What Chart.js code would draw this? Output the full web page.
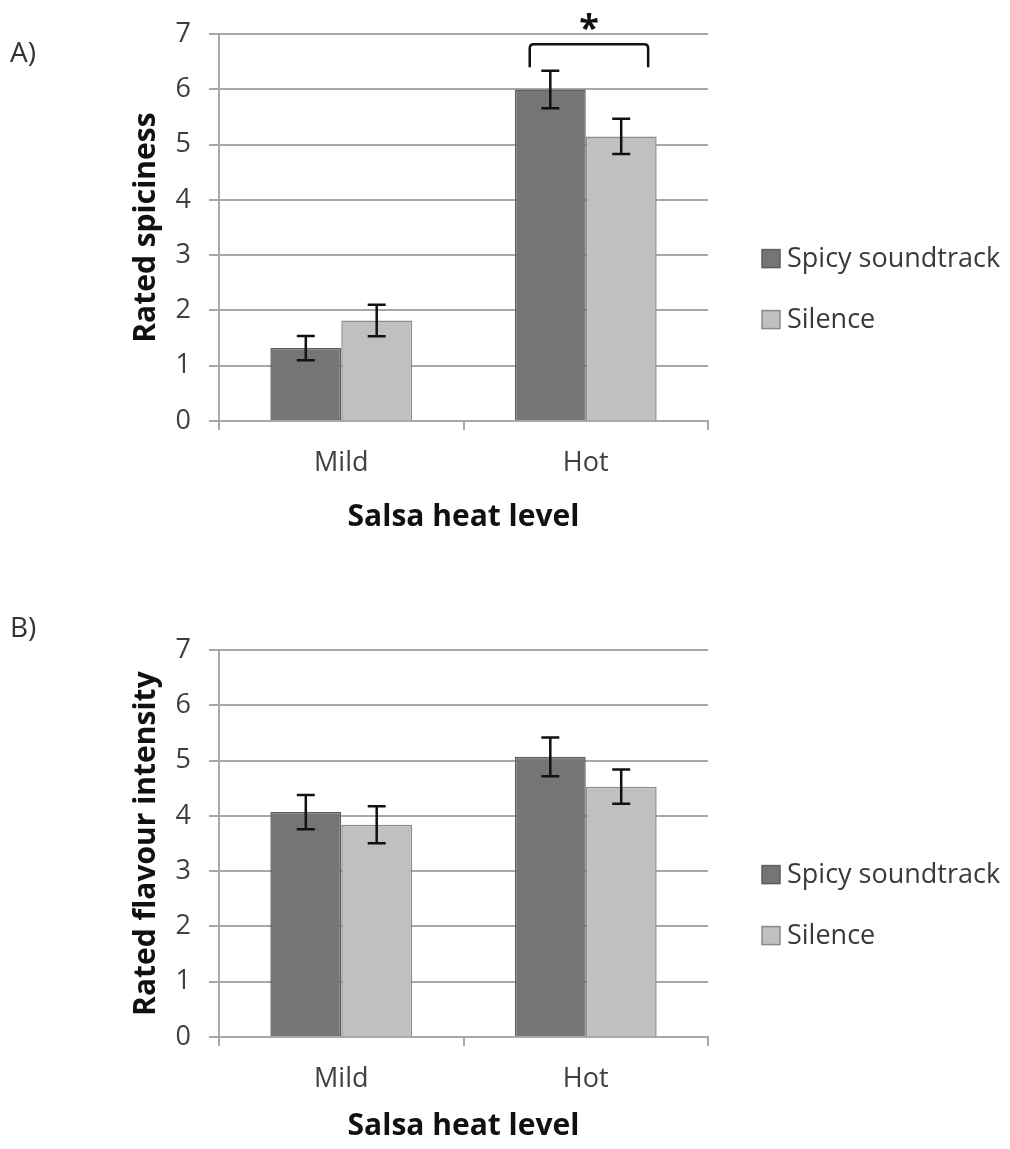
<!DOCTYPE html>
<html>
<head>
<meta charset="utf-8">
<title>Salsa heat level ratings</title>
<script src="https://cdn.jsdelivr.net/npm/chart.js@4.4.1/dist/chart.umd.min.js"></script>
<style>
  html, body { margin: 0; padding: 0; background: #fff; overflow: hidden; }
  body { position: relative; width: 1010px; height: 1149px; }
  canvas { position: absolute; left: 0; }
  #chartA { top: 0; }
  #chartB { top: 616px; }
</style>
</head>
<body>
<canvas id="chartA" width="1010" height="540"></canvas>
<canvas id="chartB" width="1010" height="533"></canvas>
<script>
// heat levels shown on the x axis
const categories = ['Mild', 'Hot'];
const yTicks = [0, 1, 2, 3, 4, 5, 6, 7];
const seriesNames = ['Spicy soundtrack', 'Silence'];

// panel A: rated spiciness (mean and error)
const spicyA = [1.32, 6.00];
const spicyAErr = [0.22, 0.34];
const silenceA = [1.82, 5.15];
const silenceAErr = [0.285, 0.32];

// panel B: rated flavour intensity
const spicyB = [4.07, 5.07];
const spicyBErr = [0.31, 0.35];
const silenceB = [3.84, 4.53];
const silenceBErr = [0.335, 0.31];

Chart.defaults.font.family = "'Open Sans', 'DejaVu Sans', sans-serif";
Chart.defaults.color = '#404040';

const gridGrey = '#a8a8a8';
const darkFill = '#757575', darkEdge = '#5e5e5e';
const lightFill = '#c0c0c0', lightEdge = '#8a8a8a';

// error bars drawn on top of each bar
const errorBars = {
    id: 'errorBars',
    afterDatasetsDraw(chart) {
        const ctx = chart.ctx;
        const y = chart.scales.y;
        ctx.save();
        ctx.strokeStyle = '#111';
        ctx.lineWidth = 2.5;
        chart.data.datasets.forEach((ds, i) => {
            chart.getDatasetMeta(i).data.forEach((bar, j) => {
                const v = ds.data[j], e = ds.errors[j];
                const top = y.getPixelForValue(v + e);
                const bot = y.getPixelForValue(v - e);
                ctx.beginPath();
                ctx.moveTo(bar.x, top); ctx.lineTo(bar.x, bot);
                ctx.moveTo(bar.x - 9, top); ctx.lineTo(bar.x + 9, top);
                ctx.moveTo(bar.x - 9, bot); ctx.lineTo(bar.x + 9, bot);
                ctx.stroke();
            });
        });
        ctx.restore();
    }
};

// legend to the right of the plot, plus the panel letter
const sideLegend = {
    id: 'sideLegend',
    afterDraw(chart, args, opts) {
        const ctx = chart.ctx;
        const area = chart.chartArea;
        const mid = (area.top + area.bottom) / 2;
        ctx.save();
        ctx.font = "27px 'Open Sans'";
        ctx.textBaseline = 'middle';
        ctx.textAlign = 'left';
        chart.data.datasets.forEach((ds, i) => {
            const cy = mid + 31 + i * 61;
            const sx = area.right + 54;
            ctx.fillStyle = ds.backgroundColor;
            ctx.fillRect(sx, cy - 9, 18, 18);
            ctx.strokeStyle = ds.borderColor;
            ctx.lineWidth = 1.5;
            ctx.strokeRect(sx, cy - 9, 18, 18);
            ctx.fillStyle = '#3a3a3a';
            ctx.fillText(ds.label, sx + 25, cy + 1);
        });
        ctx.fillStyle = '#333';
        ctx.font = "28px 'Open Sans'";
        ctx.fillText(opts.panel, 10, opts.panelY);
        ctx.restore();
    }
};

// significance bracket between the two bars of one category
const sigBracket = {
    id: 'sigBracket',
    afterDatasetsDraw(chart, args, opts) {
        if (!opts.show) return;
        const ctx = chart.ctx;
        const y = chart.scales.y;
        const b0 = chart.getDatasetMeta(0).data[opts.index];
        const b1 = chart.getDatasetMeta(1).data[opts.index];
        const x0 = b0.x - b0.width * 0.29;
        const x1 = b1.x + b1.width * 0.38;
        const yl = y.getPixelForValue(opts.level);
        const yd = y.getPixelForValue(opts.drop);
        ctx.save();
        ctx.strokeStyle = '#111';
        ctx.lineWidth = 2.5;
        ctx.beginPath();
        ctx.moveTo(x0, yd);
        ctx.lineTo(x0, yl + 4);
        ctx.quadraticCurveTo(x0, yl, x0 + 4, yl);
        ctx.lineTo(x1 - 4, yl);
        ctx.quadraticCurveTo(x1, yl, x1, yl + 4);
        ctx.lineTo(x1, yd);
        ctx.stroke();
        ctx.fillStyle = '#111';
        ctx.font = "bold 36px 'Open Sans'";
        ctx.textAlign = 'center';
        ctx.textBaseline = 'middle';
        ctx.fillText(opts.label, (x0 + x1) / 2, yl - 14);
        ctx.restore();
    }
};

function makeChart(id, spicy, spicyErr, silence, silenceErr, yTitle, panel, panelY, bracket) {
    const canvas = document.getElementById(id);
    const h = canvas.height;
    return new Chart(canvas.getContext('2d'), {
        type: 'bar',
        data: {
            labels: categories,
            datasets: [{
                label: seriesNames[0],
                data: spicy,
                errors: spicyErr,
                backgroundColor: darkFill,
                borderColor: darkEdge,
                borderWidth: 1.5,
                categoryPercentage: 0.58,
                barPercentage: 1.0
            }, {
                label: seriesNames[1],
                data: silence,
                errors: silenceErr,
                backgroundColor: lightFill,
                borderColor: lightEdge,
                borderWidth: 1.5,
                categoryPercentage: 0.58,
                barPercentage: 1.0
            }]
        },
        options: {
            responsive: false,
            maintainAspectRatio: false,
            animation: false,
            layout: { padding: { top: 32, right: 302, left: 0, bottom: 0 } },
            plugins: {
                legend: { display: false },
                tooltip: { enabled: false },
                sideLegend: { panel: panel, panelY: panelY },
                sigBracket: bracket
            },
            scales: {
                x: {
                    grid: { drawOnChartArea: false, drawTicks: true, tickLength: 9, color: gridGrey, lineWidth: 2 },
                    border: { display: true, color: gridGrey, width: 2 },
                    ticks: { font: { size: 27 }, padding: 17, color: '#404040' },
                    title: {
                        display: true, text: 'Salsa heat level', color: '#111',
                        font: { size: 30, weight: 'bold' }, padding: { top: 0, bottom: 5 }
                    },
                    afterFit(scale) { scale.height = h - 421; }
                },
                y: {
                    min: 0, max: 7,
                    afterBuildTicks(scale) { scale.ticks = yTicks.map(v => ({ value: v })); },
                    grid: { color: gridGrey, lineWidth: 2, tickLength: 10 },
                    border: { display: true, color: gridGrey, width: 2 },
                    ticks: { font: { size: 27 }, padding: 18, color: '#404040' },
                    title: {
                        display: true, text: yTitle, color: '#111',
                        font: { size: 30, weight: 'bold' }, padding: { top: 128, bottom: 0 }
                    },
                    afterFit(scale) { scale.width = 219; }
                }
            }
        },
        plugins: [errorBars, sideLegend, sigBracket]
    });
}

makeChart('chartA', spicyA, spicyAErr, silenceA, silenceAErr, 'Rated spiciness', 'A)', 54,
    { show: true, index: 1, level: 6.82, drop: 6.40, label: '*' });
makeChart('chartB', spicyB, spicyBErr, silenceB, silenceBErr, 'Rated flavour intensity', 'B)', 13,
    { show: false });
</script>
</body>
</html>
